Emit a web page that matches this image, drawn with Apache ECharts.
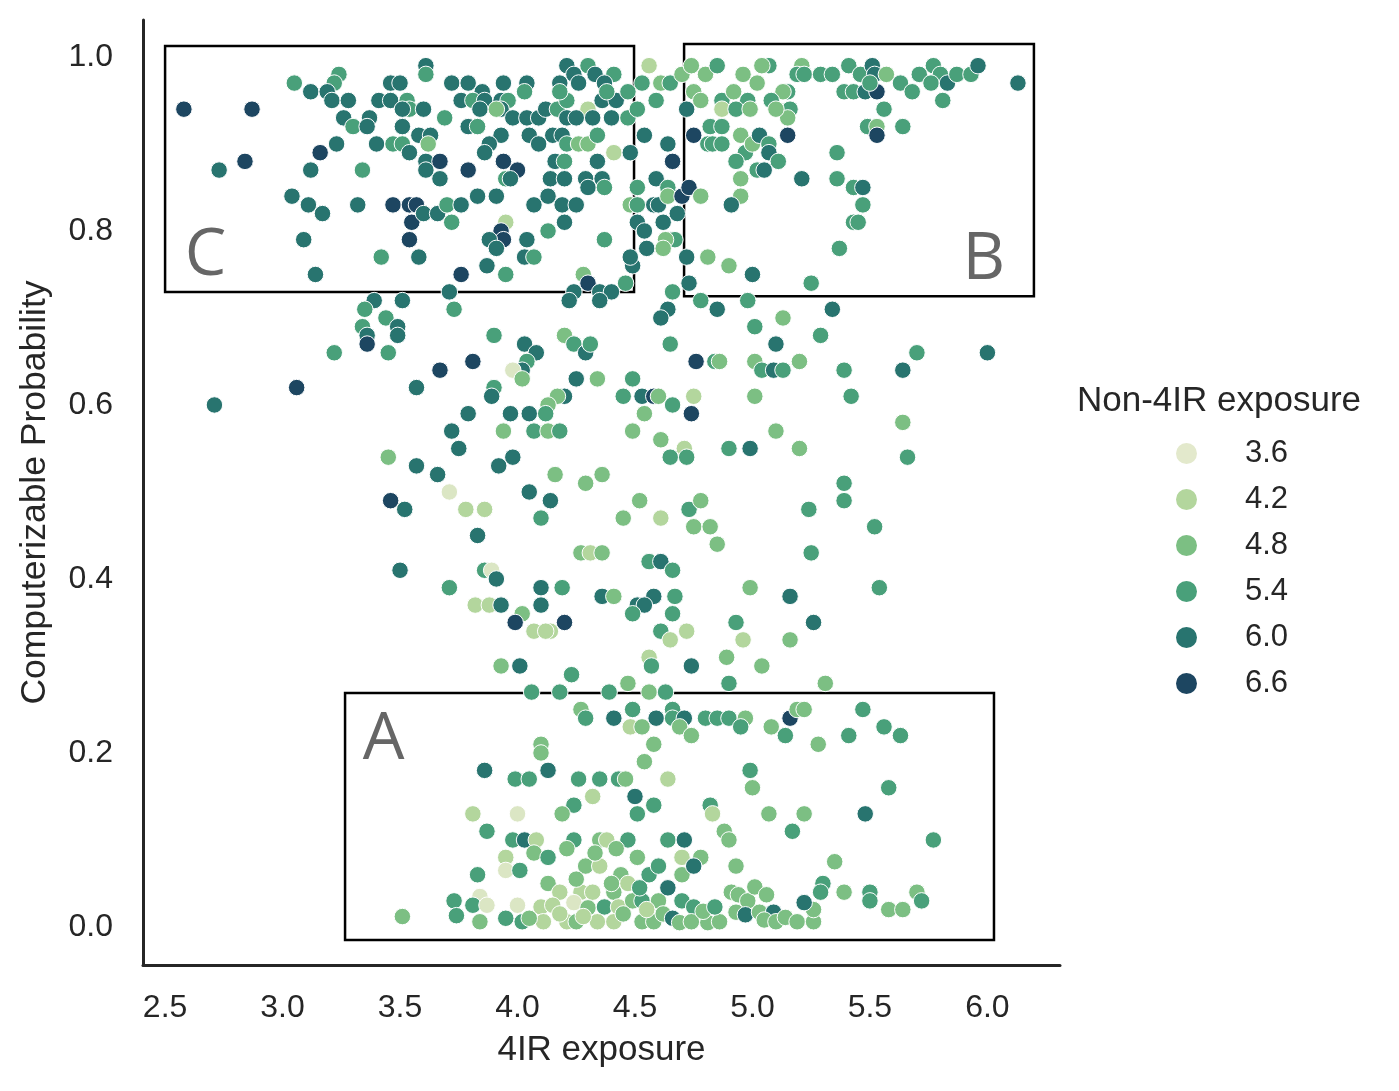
<!DOCTYPE html>
<html>
<head>
<meta charset="utf-8">
<script src="https://cdn.jsdelivr.net/npm/echarts@6/dist/echarts.min.js"></script>
<style>
    html, body { margin: 0; padding: 0; background: #fff; }
    #main { width: 1399px; height: 1091px; }
</style>
</head>
<body>
<div id="main"></div>
<script>
// 4IR exposure (x), computerizable probability (y), non-4IR exposure (colour)
// box C, top left
var boxC_x = [2.58,2.87,2.73,2.84,3.05,3.12,3.24,3.22,3.19,3.21, 3.28,3.26,3.30,3.37,3.36,3.41,3.46,3.50,3.46,3.53,
    3.54,3.60,3.51,3.61,3.61,3.69,3.72,3.23,3.16,3.40, 3.47,3.51,3.51,3.58,3.63,3.62,3.54,3.61,3.61,3.67,
    3.67,3.12,3.34,3.04,3.11,3.17,3.32,3.47,3.54,3.57, 3.55,3.60,3.66,3.72,3.70,3.09,3.54,3.42,3.58,3.14,
    3.39,3.35,3.44,3.51,3.34,3.36,3.49,3.49,3.71,3.73];
var boxC_y = [0.94,0.94,0.87,0.88,0.97,0.96,0.98,0.97,0.96,0.95, 0.95,0.93,0.92,0.93,0.92,0.95,0.97,0.97,0.95,0.95,
    0.94,0.94,0.94,0.99,0.98,0.93,0.97,0.90,0.89,0.90, 0.90,0.90,0.92,0.91,0.91,0.90,0.89,0.88,0.87,0.88,
    0.86,0.87,0.87,0.84,0.83,0.82,0.83,0.83,0.83,0.83, 0.81,0.82,0.82,0.81,0.83,0.79,0.79,0.77,0.77,0.75,
    0.72,0.71,0.70,0.72,0.69,0.68,0.69,0.68,0.73,0.71];
var boxC_z = [6.6,6.6,6.0,6.6,5.4,6.0,5.4,5.4,6.0,6.0, 6.0,6.0,5.4,6.0,6.0,6.0,6.0,6.0,6.0,5.4,
    5.4,6.0,6.0,6.0,5.4,5.4,6.0,6.0,6.6,6.0, 5.4,5.4,6.0,6.0,6.0,4.8,6.0,6.0,6.0,6.6,
    6.0,6.0,5.4,6.0,6.0,6.0,6.0,6.6,6.6,6.6, 6.6,6.0,6.0,5.4,5.4,6.0,6.6,5.4,6.0,6.0,
    6.0,5.4,5.4,6.0,5.4,6.0,6.0,6.0,6.0,5.4];

// top middle
var topMid_x = [4.21,4.24,4.30,4.33,4.41,4.37,4.26,4.18,4.56,4.53, 4.61,4.65,4.70,4.74,4.80,4.85,4.96,5.02,3.79,3.85,
    3.94,4.04,4.03,3.76,3.81,3.86,3.93,3.96,3.93,3.84, 3.91,3.98,4.04,4.09,4.12,4.17,4.21,4.18,4.30,4.36,
    4.42,4.38,4.47,4.21,4.25,4.32,4.40,4.47,4.51,4.59, 4.72,4.87,4.98,4.92,4.87,4.93,4.99,4.75,4.78,3.79,
    3.83,3.93,3.88,3.86,4.05,4.09,4.15,4.19,4.21,4.26, 4.30,4.34,4.41,4.48,4.54,4.64,4.66,4.75,4.81,4.83,
    4.87,4.82,4.87,4.95,4.97,5.00,4.93,4.95,4.95,4.91, 5.02,3.79,3.94,4.00,3.95,3.97,4.14,4.20,4.16,4.20,
    4.29,4.36,4.30,4.37,4.34,4.51,4.59,4.64,4.48,3.76, 3.83,3.91,4.07,4.13,4.19,4.25,4.20,4.13,3.95,3.93,
    3.94,3.88,3.91,4.04,4.03,4.07,3.87,3.95,3.76,4.37, 4.28,4.30,4.35,4.40,4.24,4.22,4.35,4.46,4.49,4.48,
    4.51,4.51,4.58,4.60,4.64,4.68,4.70,4.73,4.78,4.62, 4.65,4.67,4.63,4.55,4.62,4.54,4.72,4.81,4.90,4.73,
    4.66,4.78,4.85,4.98,4.64,4.61];
var topMid_y = [0.99,0.98,0.99,0.98,0.98,0.97,0.97,0.97,0.99,0.97, 0.97,0.97,0.98,0.99,0.98,0.99,0.98,0.97,0.97,0.96,
    0.97,0.97,0.96,0.95,0.95,0.95,0.95,0.95,0.94,0.94, 0.94,0.93,0.93,0.93,0.94,0.94,0.95,0.96,0.94,0.95,
    0.95,0.96,0.96,0.93,0.93,0.93,0.93,0.93,0.94,0.95, 0.94,0.95,0.95,0.96,0.94,0.94,0.94,0.96,0.95,0.92,
    0.92,0.91,0.90,0.89,0.91,0.90,0.91,0.91,0.90,0.90, 0.90,0.91,0.89,0.89,0.91,0.90,0.88,0.91,0.90,0.90,
    0.90,0.92,0.92,0.91,0.89,0.90,0.88,0.86,0.84,0.83, 0.87,0.87,0.88,0.87,0.86,0.86,0.86,0.86,0.88,0.88,
    0.86,0.86,0.85,0.85,0.88,0.85,0.86,0.85,0.83,0.83, 0.84,0.84,0.83,0.84,0.83,0.83,0.81,0.80,0.81,0.80,
    0.79,0.79,0.78,0.79,0.77,0.77,0.76,0.75,0.75,0.79, 0.75,0.74,0.73,0.73,0.73,0.72,0.72,0.74,0.76,0.77,
    0.83,0.81,0.83,0.83,0.84,0.82,0.84,0.85,0.84,0.81, 0.79,0.79,0.79,0.78,0.78,0.80,0.77,0.77,0.76,0.74,
    0.73,0.72,0.71,0.72,0.71,0.70];
var topMid_z = [6.0,6.0,5.4,6.0,5.4,6.0,6.0,6.0,4.2,5.4, 4.8,5.4,4.8,4.8,4.8,5.4,4.8,4.8,6.0,6.0,
    6.0,6.0,5.4,6.0,5.4,6.0,6.0,5.4,6.0,6.0, 4.8,6.0,6.0,6.0,6.0,5.4,5.4,5.4,4.2,6.0,
    6.0,5.4,5.4,6.0,6.0,6.0,6.0,5.4,5.4,5.4, 6.0,5.4,5.4,4.8,4.2,5.4,4.8,4.8,4.8,6.0,
    5.4,6.0,6.0,6.0,6.0,6.0,6.0,6.0,5.4,4.8, 4.8,5.4,4.2,6.0,6.0,6.0,6.6,6.6,5.4,5.4,
    5.4,5.4,5.4,4.8,5.4,4.8,5.4,4.8,4.8,6.0, 5.4,6.6,6.6,6.6,5.4,6.0,6.0,6.0,6.0,5.4,
    6.0,6.0,6.0,5.4,6.0,5.4,6.0,5.4,4.8,6.0, 6.0,6.0,6.0,6.0,6.0,6.0,6.0,5.4,4.2,6.6,
    6.6,6.0,6.0,6.0,6.0,5.4,6.0,5.4,6.6,5.4, 4.8,6.6,6.0,6.0,6.0,6.0,6.0,5.4,6.0,6.0,
    5.4,6.0,6.0,6.0,4.8,6.0,6.6,6.6,4.8,6.0, 6.0,5.4,4.8,6.0,4.8,6.0,6.0,4.8,4.8,6.0,
    5.4,5.4,6.0,5.4,6.0,6.0];

// box B, top right
var boxB_x = [5.07,5.04,5.21,5.19,5.22,5.29,5.34,5.41,5.46,5.51, 5.52,5.57,5.39,5.43,5.48,5.53,5.50,5.63,5.68,5.71,
    5.77,5.80,5.76,5.83,5.87,5.93,5.96,5.81,6.13,5.56, 5.49,5.53,5.53,5.64,5.15,5.13,5.16,5.15,5.08,5.10,
    5.15,5.03,5.07,5.07,5.11,5.05,5.21,5.36,5.36,5.43, 5.47,5.47,5.43,5.45,5.37,5.00,5.25,5.34,5.13,5.01];
var boxB_y = [0.99,0.99,0.99,0.98,0.98,0.98,0.98,0.99,0.98,0.99, 0.98,0.98,0.96,0.96,0.96,0.96,0.97,0.97,0.96,0.98,
    0.99,0.98,0.97,0.97,0.98,0.98,0.99,0.95,0.97,0.94, 0.92,0.92,0.91,0.92,0.96,0.96,0.94,0.93,0.95,0.94,
    0.91,0.91,0.90,0.89,0.88,0.87,0.86,0.89,0.86,0.85, 0.85,0.83,0.81,0.81,0.78,0.75,0.74,0.71,0.70,0.69];
var boxB_z = [5.4,4.8,4.8,5.4,5.4,5.4,5.4,5.4,5.4,6.0, 6.0,4.8,5.4,5.4,6.0,6.6,5.4,5.4,5.4,5.4,
    5.4,5.4,5.4,6.0,5.4,5.4,6.0,5.4,6.0,5.4, 5.4,4.8,6.6,5.4,5.4,4.8,5.4,4.8,5.4,4.8,
    6.6,6.0,5.4,6.0,5.4,6.0,6.0,5.4,5.4,5.4, 6.0,5.4,5.4,5.4,5.4,6.0,5.4,6.0,4.8,5.4];

// middle band, left half
var midLeft_x = [3.22,3.36,3.45,3.06,2.71,3.57,3.67,3.81,3.90,4.03, 4.08,4.04,4.02,3.98,4.02,3.90,3.89,4.20,4.24,4.29,
    4.31,4.25,4.34,4.20,4.17,4.13,3.79,3.97,4.05,4.12, 3.72,3.94,4.07,4.13,4.18,3.75,3.45,3.57,3.66,3.92,
    3.98,4.16,4.29,4.36,3.71,3.46,3.52,3.78,3.86,4.05, 4.14,4.10,3.83,4.27,4.31,3.50,3.86,3.89,3.91,3.71,
    4.10,4.19,4.36,3.82,3.88,3.93,4.10,4.02,3.99,4.20, 4.07,4.14,4.12,3.93,4.01,4.36];
var midLeft_y = [0.66,0.67,0.66,0.62,0.60,0.62,0.64,0.65,0.68,0.67, 0.66,0.65,0.64,0.64,0.63,0.62,0.61,0.68,0.67,0.66,
    0.67,0.63,0.63,0.61,0.61,0.60,0.59,0.59,0.59,0.59, 0.57,0.57,0.57,0.57,0.57,0.55,0.54,0.53,0.52,0.53,
    0.54,0.52,0.51,0.52,0.50,0.49,0.48,0.48,0.48,0.50, 0.49,0.47,0.45,0.43,0.43,0.41,0.41,0.41,0.40,0.39,
    0.39,0.39,0.38,0.37,0.37,0.37,0.37,0.36,0.35,0.35, 0.34,0.34,0.34,0.30,0.30,0.43];
var midLeft_z = [5.4,6.6,5.4,6.6,6.0,6.0,6.6,6.6,5.4,6.0, 6.0,5.4,6.0,3.7,4.8,5.4,6.0,4.8,5.4,6.0,
    5.4,6.0,4.8,6.0,4.8,4.8,6.0,6.0,6.0,5.4, 6.0,4.8,5.4,4.8,5.4,6.0,4.8,6.0,6.0,6.0,
    6.0,4.8,4.8,4.8,3.7,6.6,6.0,4.2,4.2,6.0, 6.0,5.4,6.0,4.8,4.2,6.0,5.4,3.7,6.0,5.4,
    6.0,5.4,6.0,4.2,4.2,6.0,6.0,4.8,6.6,6.6, 4.2,4.2,4.2,4.8,6.0,4.8];

// middle band, right half
var midRight_x = [4.65,4.76,4.84,4.86,5.01,5.10,5.29,5.04,5.09,5.13, 5.20,5.39,5.70,5.64,6.00,5.42,5.64,5.66,4.49,4.45,
    4.53,4.58,4.60,4.66,4.75,4.74,4.54,5.01,4.49,4.61, 4.71,4.65,4.72,4.90,4.99,5.10,5.20,5.39,5.39,4.52,
    4.45,4.61,4.73,4.78,4.75,4.82,4.85,5.24,5.52,4.56, 4.61,4.66,5.25,5.54,4.99,5.16,4.41,4.58,4.67,4.51,
    4.54,4.49,4.66,4.93,5.26,4.61,4.65,4.72,4.96,5.16, 4.56,4.57,4.74,4.89,5.04];
var midRight_y = [0.67,0.65,0.65,0.65,0.65,0.67,0.68,0.64,0.64,0.64, 0.65,0.64,0.66,0.64,0.66,0.61,0.58,0.54,0.63,0.61,
    0.61,0.61,0.61,0.60,0.61,0.59,0.59,0.61,0.57,0.56, 0.55,0.54,0.54,0.55,0.55,0.57,0.55,0.51,0.49,0.49,
    0.47,0.47,0.48,0.49,0.46,0.46,0.44,0.48,0.46,0.42, 0.42,0.41,0.43,0.39,0.39,0.38,0.38,0.38,0.38,0.37,
    0.37,0.36,0.36,0.35,0.35,0.34,0.33,0.34,0.33,0.33, 0.31,0.30,0.30,0.31,0.30];
var midRight_z = [5.4,6.6,5.4,4.8,4.8,6.0,5.4,5.4,6.0,5.4, 4.8,5.4,5.4,6.0,6.0,5.4,4.8,5.4,5.4,5.4,
    6.0,6.6,4.8,5.4,4.2,6.6,4.8,4.8,4.8,4.8, 4.2,5.4,5.4,5.4,6.0,4.8,4.8,5.4,5.4,4.8,
    4.8,4.2,5.4,4.8,4.8,4.8,4.8,5.4,5.4,5.4, 6.0,5.4,5.4,5.4,4.8,6.0,4.8,6.0,5.4,6.0,
    6.0,5.4,5.4,5.4,6.0,5.4,4.2,4.2,4.2,4.8, 4.2,5.4,6.0,4.8,4.8];

// box A, left part
var boxA1_x = [4.23,4.06,4.18,4.39,4.47,4.56,4.63,4.27,4.29,4.41, 4.49,4.48,4.53,4.59,4.58,4.54,4.10,4.10,3.86,4.13,
    3.99,4.05,4.26,4.35,4.43,4.46,4.32,4.50,4.24,4.19, 4.51,4.58,3.81,4.00,3.87,3.98,4.03,4.08,4.07,4.13,
    3.95,4.24,4.35,4.38,4.47,4.42,4.21,4.51,3.95,4.01, 4.29,4.35,4.44,4.56,3.83,4.13,4.27,4.32,4.41,4.18,
    3.84,3.73,3.81,3.87,4.00,3.74,3.84,3.95,4.02,3.51, 4.10,4.11,4.15,4.24,4.30,4.37,4.43,4.49,4.53,4.60,
    4.21,4.25,4.34,4.41,4.53,4.58,4.05,4.18,4.28,4.45, 4.55,4.62,4.40,4.47,4.25,4.52,4.33,4.60,4.70];
var boxA1_y = [0.29,0.27,0.27,0.27,0.28,0.27,0.27,0.25,0.24,0.24, 0.25,0.23,0.23,0.24,0.21,0.19,0.21,0.20,0.18,0.18,
    0.17,0.17,0.17,0.17,0.17,0.17,0.15,0.15,0.14,0.13, 0.13,0.14,0.13,0.13,0.11,0.10,0.10,0.10,0.085,0.08,
    0.08,0.10,0.10,0.10,0.10,0.09,0.09,0.08,0.065,0.065, 0.07,0.07,0.06,0.06,0.06,0.05,0.04,0.04,0.04,0.04,
    0.035,0.03,0.025,0.025,0.025,0.013,0.006,0.01,0.006,0.012, 0.023,0.006,0.025,0.028,0.022,0.023,0.023,0.03,0.03,0.03,
    0.006,0.006,0.006,0.006,0.006,0.006,0.01,0.015,0.012,0.015, 0.02,0.015,0.05,0.05,0.055,0.045,0.085,0.07,0.06];
var boxA1_z = [5.4,5.4,5.4,5.4,4.8,4.8,5.4,4.8,5.4,6.0, 5.4,4.2,4.8,6.0,4.8,4.8,4.8,4.8,6.0,6.0,
    5.4,5.4,5.4,5.4,5.4,4.8,4.2,6.0,5.4,4.8, 5.4,5.4,4.2,3.7,5.4,5.4,6.0,4.2,4.8,5.4,
    4.2,5.4,4.8,4.2,5.4,4.8,4.8,4.8,3.7,5.4, 4.8,4.2,4.8,5.4,5.4,4.8,4.2,4.2,4.8,4.2,
    3.7,5.4,5.4,3.7,3.7,5.4,4.8,5.4,5.4,4.8, 4.2,4.2,4.2,3.7,4.8,5.4,4.2,4.8,5.4,4.8,
    4.2,4.8,4.2,4.2,4.8,4.8,4.8,4.2,4.2,4.8, 4.2,4.8,4.8,4.2,4.8,5.4,4.8,5.4,4.8];

// box A, right part
var boxA2_x = [4.90,5.31,4.66,4.66,4.71,4.69,4.74,4.80,4.85,4.90, 4.97,4.95,5.08,5.16,5.19,5.22,5.14,5.28,5.41,5.47,
    5.56,5.63,4.64,4.99,5.00,5.58,4.82,4.83,5.07,5.22, 5.48,5.17,4.88,4.90,4.64,4.71,5.77,4.70,4.78,4.75,
    4.93,5.35,5.30,5.29,5.39,5.50,5.50,5.70,5.72,5.58, 5.64,4.64,4.70,4.75,4.66,4.69,4.74,4.81,4.86,4.79,
    4.84,4.91,4.94,4.98,5.01,5.06,4.93,4.97,5.03,5.09, 5.05,5.10,5.14,5.19,5.26,5.26,5.22];
var boxA2_y = [0.28,0.28,0.25,0.24,0.24,0.23,0.22,0.24,0.24,0.24, 0.24,0.23,0.23,0.24,0.25,0.25,0.22,0.21,0.22,0.25,
    0.23,0.22,0.17,0.18,0.16,0.16,0.14,0.13,0.13,0.13, 0.13,0.11,0.11,0.10,0.10,0.10,0.10,0.08,0.08,0.07,
    0.07,0.075,0.05,0.04,0.04,0.04,0.03,0.04,0.03,0.02, 0.02,0.045,0.03,0.023,0.01,0.005,0.006,0.005,0.006,0.018,
    0.023,0.04,0.037,0.03,0.046,0.037,0.017,0.014,0.017,0.017, 0.008,0.006,0.011,0.006,0.006,0.02,0.028];
var boxA2_z = [5.4,4.8,5.4,5.4,6.0,4.8,4.8,5.4,5.4,5.4, 4.8,5.4,4.8,6.6,4.8,4.8,5.4,4.8,5.4,5.4,
    5.4,5.4,4.2,5.4,4.8,5.4,5.4,4.2,4.8,4.8, 6.0,5.4,4.8,4.8,5.4,6.0,5.4,4.2,4.8,6.0,
    4.8,4.8,5.4,5.4,4.8,5.4,5.4,4.8,5.4,4.8, 4.8,6.0,5.4,5.4,6.0,4.8,4.8,4.8,4.8,4.8,
    5.4,4.8,4.8,4.8,4.8,4.8,4.8,6.0,4.8,6.0, 4.8,4.8,4.8,4.8,4.8,4.8,6.0];

// legend levels and colours
var levels = ['3.6', '4.2', '4.8', '5.4', '6.0', '6.6'];
var levelColors = ['#e3e9cc', '#b3d69d', '#7cbf83', '#49a07a', '#28746f', '#1d4661'];

// highlighted regions: [x0, y0, x1, y1]
var regionNames = ['C', 'B', 'A'];
var regionC = [2.5, 0.730, 4.496, 1.0126];
var regionB = [4.709, 0.725, 6.198, 1.015];
var regionA = [3.266, -0.015, 6.028, 0.269];

var xs = [].concat(boxC_x, topMid_x, boxB_x, midLeft_x, midRight_x, boxA1_x, boxA2_x);
var ys = [].concat(boxC_y, topMid_y, boxB_y, midLeft_y, midRight_y, boxA1_y, boxA2_y);
var zs = [].concat(boxC_z, topMid_z, boxB_z, midLeft_z, midRight_z, boxA1_z, boxA2_z);
var points = [];
for (var i = 0; i < xs.length; i++) {
    points.push([xs[i], ys[i], zs[i]]);
}

var textColor = '#262626';
var font = 'Liberation Sans, Arial, sans-serif';

function area(r, name, pos, pad) {
    return [
        { coord: [r[0], r[1]], name: name, label: { position: pos, padding: pad } },
        { coord: [r[2], r[3]] }
    ];
}

var series = [{
    type: 'scatter',
    data: points,
    symbolSize: 16.5,
    itemStyle: { borderColor: '#fff', borderWidth: 1, opacity: 1 },
    z: 2
}, {
    // rectangles with letters
    type: 'scatter',
    data: [],
    z: 5,
    markArea: {
        silent: true,
        itemStyle: { color: 'rgba(0,0,0,0)', borderColor: '#000', borderWidth: 2.5 },
        label: {
            show: true,
            fontFamily: 'Open Sans, sans-serif',
            fontSize: 66,
            color: '#666',
            distance: 4
        },
        data: [
            area(regionC, regionNames[0], 'insideBottomLeft', [0, 0, 0, 17]),
            area(regionB, regionNames[1], 'insideBottomRight', [0, 26, 0, 0]),
            area(regionA, regionNames[2], 'insideTopLeft', [12, 0, 0, 15])
        ]
    }
}];
levels.forEach(function (name, k) {
    series.push({
        type: 'scatter',
        name: name,
        data: [],
        itemStyle: { color: levelColors[k], opacity: 1 }
    });
});

var chart = echarts.init(document.getElementById('main'));
chart.setOption({
    animation: false,
    backgroundColor: '#fff',
    title: {
        text: 'Non-4IR exposure',
        left: 1077,
        top: 384,
        padding: 0,
        textStyle: { fontFamily: font, fontSize: 35, fontWeight: 'normal', color: textColor }
    },
    legend: {
        data: levels,
        orient: 'vertical',
        left: 1176,
        top: 438,
        padding: 0,
        icon: 'circle',
        itemWidth: 21,
        itemHeight: 21,
        itemGap: 15,
        itemStyle: { opacity: 1 },
        textStyle: { fontFamily: font, fontSize: 31, color: textColor, padding: [0, 0, 0, 43] }
    },
    visualMap: {
        show: false,
        type: 'continuous',
        seriesIndex: 0,
        dimension: 2,
        min: 3.6,
        max: 6.6,
        inRange: { color: levelColors }
    },
    grid: { left: 143, top: 20, width: 917, height: 945 },
    xAxis: {
        type: 'value',
        min: 2.406,
        max: 6.309,
        splitNumber: 8,
        name: '4IR exposure',
        nameLocation: 'middle',
        nameGap: 68,
        nameTextStyle: { fontFamily: font, fontSize: 35, color: textColor },
        axisLine: { onZero: false, lineStyle: { color: textColor, width: 3 } },
        axisTick: { show: false },
        splitLine: { show: false },
        axisLabel: {
            fontFamily: font, fontSize: 32, color: textColor, margin: 27,
            showMinLabel: false, showMaxLabel: false,
            formatter: function (v) { return v.toFixed(1); }
        }
    },
    yAxis: {
        type: 'value',
        min: -0.0437,
        max: 1.0425,
        splitNumber: 5,
        name: 'Computerizable Probability',
        nameLocation: 'middle',
        nameGap: 90,
        nameTextStyle: { fontFamily: font, fontSize: 35.5, color: textColor },
        axisLine: { onZero: false, lineStyle: { color: textColor, width: 3 } },
        axisTick: { show: false },
        splitLine: { show: false },
        axisLabel: {
            fontFamily: font, fontSize: 32, color: textColor, margin: 30,
            showMinLabel: false, showMaxLabel: false,
            formatter: function (v) { return v.toFixed(1); }
        }
    },
    series: series
});
</script>
</body>
</html>
